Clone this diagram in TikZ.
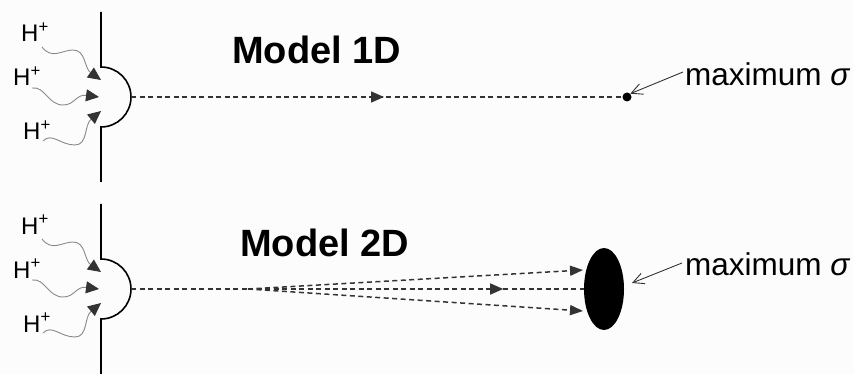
\documentclass[tikz,border=0pt]{standalone}
\usepackage{fontspec}
\setmainfont{Liberation Sans}
\usetikzlibrary{arrows.meta,decorations.markings,shapes.geometric}
\definecolor{bgc}{HTML}{FCFCFC}
\definecolor{tipc}{HTML}{333333}
\definecolor{wavec}{HTML}{8A8A8A}
\tikzset{
  membrane/.style={line width=1.6pt, black},
  wave/.style={wavec, line width=0.9pt, -{Triangle[length=13pt,width=12pt,color=tipc]}},
  dashline/.style={line width=1.5pt, tipc, dash pattern=on 5pt off 3.5pt},
  midtip/.style={postaction={decorate}, decoration={markings, mark=at position #1 with {\arrow{Triangle[length=13pt,width=11pt,color=tipc]}}}},
  fantip/.style={-{Triangle[length=13pt,width=10pt,color=tipc]}},
  pointer/.style={tipc, line width=0.9pt, -{Straight Barb[length=11pt,width=11pt]}},
  hlabel/.style={anchor=base west, inner sep=0, font=\fontsize{24}{24}\selectfont},
  title/.style={anchor=base west, inner sep=0, font=\fontsize{38}{38}\selectfont\bfseries},
  maxlabel/.style={anchor=base west, inner sep=0, font=\fontsize{31.5}{31.5}\selectfont},
}
\begin{document}
\begin{tikzpicture}[x=1pt,y=-1pt]
\useasboundingbox[fill=bgc] (0,0) rectangle (854,374);

% ---------- Model 1D ----------
\coordinate (t1) at (101,67);
\coordinate (apex1) at (131,97);
\draw[membrane] (101,12) -- (t1) arc[start angle=-90,end angle=90,radius=30] -- (101,182);
\node[hlabel] (h1a) at (21,42) {H\textsuperscript{+}};
\node[hlabel] (h1b) at (13,86) {H\textsuperscript{+}};
\node[hlabel] (h1c) at (23,140) {H\textsuperscript{+}};
\draw[wave] (42,47) .. controls (52,60) and (62,50) .. (73,50) .. controls (86,50) and (84,68) .. (101,80);
\draw[wave] (32,88) .. controls (45,86) and (48,105) .. (63,105) .. controls (75,105) and (76,94) .. (99,97);
\draw[wave] (43,141) .. controls (52,132) and (60,145) .. (75,145) .. controls (88,145) and (84,125) .. (101,111);
\node[title] (m1) at (232,64) {Model 1D};
\node[circle, fill=black, inner sep=0, minimum size=9pt] (dot1) at (627,97) {};
\draw[dashline, midtip=0.515] (apex1) -- (dot1.west);
\node[maxlabel] (max1) at (685,86) {maximum \textit{σ}};
\coordinate (p1) at (683,72);
\draw[pointer] (p1) -- (dot1.north east);

% ---------- Model 2D ----------
\coordinate (t2) at (101,259);
\coordinate (apex2) at (131,289);
\draw[membrane] (101,204) -- (t2) arc[start angle=-90,end angle=90,radius=30] -- (101,374);
\node[hlabel] (h2a) at (21,234) {H\textsuperscript{+}};
\node[hlabel] (h2b) at (13,278) {H\textsuperscript{+}};
\node[hlabel] (h2c) at (23,332) {H\textsuperscript{+}};
\draw[wave] (42,239) .. controls (52,252) and (62,242) .. (73,242) .. controls (86,242) and (84,260) .. (101,272);
\draw[wave] (32,280) .. controls (45,278) and (48,297) .. (63,297) .. controls (75,297) and (76,286) .. (99,289);
\draw[wave] (43,333) .. controls (52,324) and (60,337) .. (75,337) .. controls (88,337) and (84,317) .. (101,303);
\node[title] (m2) at (240,257) {Model 2D};
\node[ellipse, fill=black, inner sep=0, minimum width=40pt, minimum height=82pt] (ell) at (604,289) {};
\coordinate (fan) at (248,289);
\coordinate (fanup) at (583,270);
\coordinate (fandown) at (583,311);
\draw[dashline] (apex2) -- (fan);
\draw[dashline, midtip=0.76] (fan) -- (ell.west);
\draw[dashline, fantip] (fan) -- (fanup);
\draw[dashline, fantip] (fan) -- (fandown);
\node[maxlabel] (max2) at (685,275) {maximum \textit{σ}};
\coordinate (p2) at (682,263);
\coordinate (q2) at (632,283);
\draw[pointer] (p2) -- (q2);
\end{tikzpicture}
\end{document}
